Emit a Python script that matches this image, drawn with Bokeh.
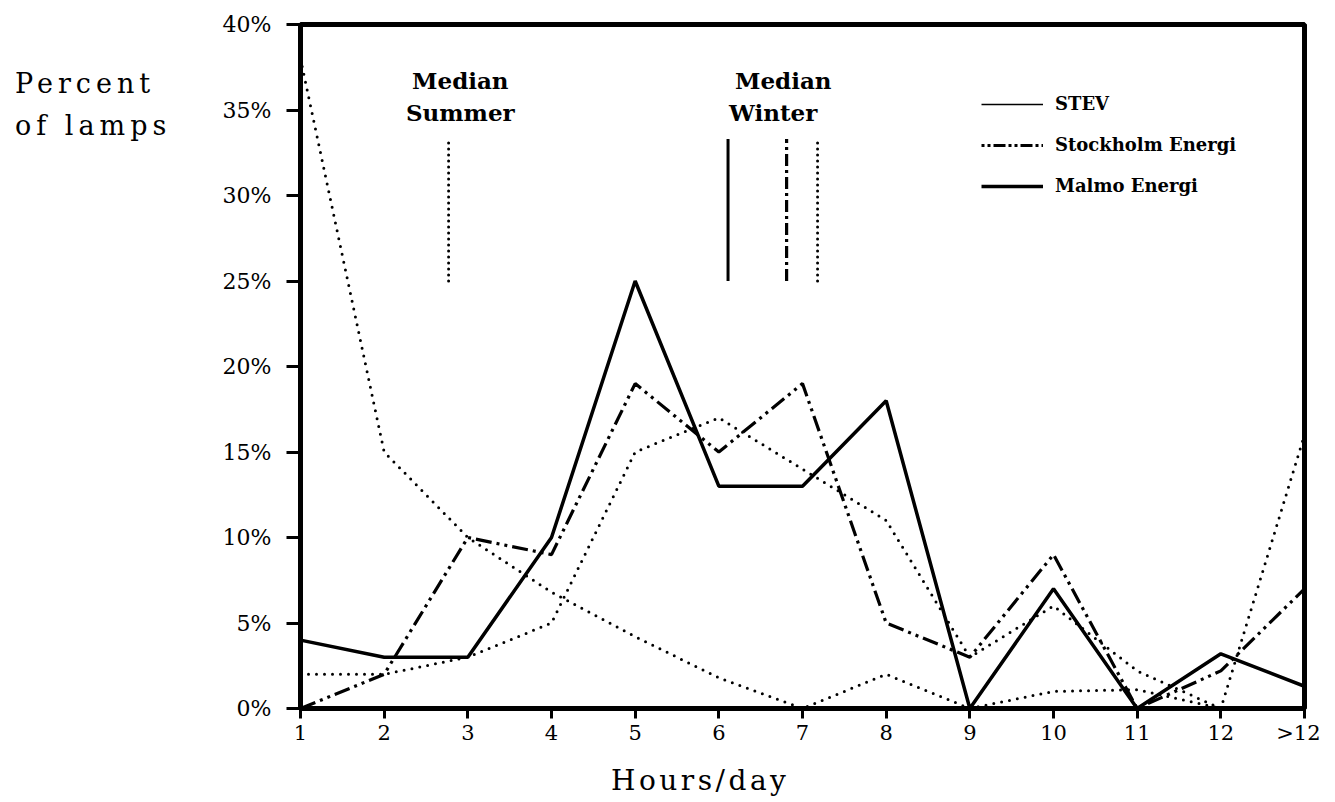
from bokeh.plotting import figure
from bokeh.models import Range1d, FixedTicker, Label, Legend, LegendItem, Div
from bokeh.layouts import row, column
from bokeh.embed import file_html
from bokeh.resources import INLINE

# ---- data ----
hour_pos = [1, 2, 3, 4, 5, 6, 7, 8, 9, 10, 11, 12, 13]
hour_labels = ["1", "2", "3", "4", "5", "6", "7", "8", "9", "10", "11", "12", ">12"]
malmo = [4, 3, 3, 10, 25, 13, 13, 18, 0, 7, 0, 3.2, 1.3]
stockholm = [0, 2, 10, 9, 19, 15, 19, 5, 3, 9, 0, 2.2, 7]
stev_summer = [38, 15, 10, 6.8, 4.2, 1.8, 0, 2, 0, 1, 1.1, 0, 0]
stev_winter = [2, 2, 3, 5, 15, 17, 14, 11, 3, 6, 2.2, 0, 16]
y_ticks = [0, 5, 10, 15, 20, 25, 30, 35, 40]
y_tick_labels = ["0%", "5%", "10%", "15%", "20%", "25%", "30%", "35%", "40%"]
median_summer = [2.77]
median_winter_malmo = [6.11]
median_winter_stockholm = [6.81]
median_winter_stev = [7.18]
median_low = [25]
median_high = [33.3]
series_names = ["STEV", "Stockholm Energi", "Malmo Energi"]

SERIF = "DejaVu Serif"
NAN = float("nan")

p = figure(width=1120, height=755, output_backend="svg", toolbar_location=None,
           x_range=Range1d(1, 13), y_range=Range1d(0, 40),
           min_border_left=100, min_border_right=16, min_border_top=24,
           min_border_bottom=47)
p.margin = 0
p.grid.visible = False
p.outline_line_color = "black"
p.outline_line_width = 5
p.background_fill_color = "white"
p.border_fill_color = "white"

# axes
p.xaxis.ticker = FixedTicker(ticks=hour_pos)
p.xaxis.major_label_overrides = {h: l for h, l in zip(hour_pos, hour_labels)}
p.yaxis.ticker = FixedTicker(ticks=y_ticks)
p.yaxis.major_label_overrides = {t: l for t, l in zip(y_ticks, y_tick_labels)}
for ax in (p.xaxis, p.yaxis):
    ax.axis_line_width = 5
    ax.axis_line_color = "black"
    ax.major_tick_line_width = 3
    ax.major_tick_in = 0
    ax.minor_tick_line_color = None
    ax.major_label_text_font = SERIF
    ax.major_label_text_color = "black"
p.xaxis.major_label_text_font_size = "21px"
p.yaxis.major_label_text_font_size = "22px"
p.xaxis.major_tick_out = 10
p.yaxis.major_tick_out = 14
p.xaxis.major_label_standoff = 2
p.yaxis.major_label_standoff = 15

DOT = dict(line_color="black", line_width=3, line_dash="0 8", line_cap="round")
VDOT = dict(line_color="black", line_width=3, line_dash="0 6", line_cap="round")

# series
p.line(hour_pos, stev_summer, **DOT)
p.line(hour_pos, stev_winter, **DOT)
p.line(hour_pos, stockholm, line_color="black", line_width=3.2, line_dash="16 5 3 5 3 5")
p.line(hour_pos, malmo, line_color="black", line_width=3.5)

# median markers
p.segment(x0=median_summer, y0=median_low, x1=median_summer, y1=median_high, **VDOT)
p.segment(x0=median_winter_malmo, y0=median_low, x1=median_winter_malmo, y1=median_high,
          line_color="black", line_width=3)
p.segment(x0=median_winter_stockholm, y0=median_low, x1=median_winter_stockholm, y1=median_high,
          line_color="black", line_width=3.2, line_dash="12 4 3 4")
p.segment(x0=median_winter_stev, y0=median_low, x1=median_winter_stev, y1=median_high, **VDOT)

# median texts
for txt, x, y in [("Median", 2.91, 36.7), ("Summer", 2.91, 34.85),
                  ("Median", 6.77, 36.7), ("Winter", 6.65, 34.85)]:
    p.add_layout(Label(x=x, y=y, text=txt, text_align="center", text_baseline="alphabetic",
                       text_font=SERIF, text_font_style="bold", text_font_size="23px",
                       text_color="black"))

# legend (samples as drawn in the reference legend)
r_stev = p.line([NAN], [NAN], line_color="black", line_width=1.6)
r_sto = p.line([NAN], [NAN], line_color="black", line_width=3, line_dash="3 3 3 3 12 3")
r_mal = p.line([NAN], [NAN], line_color="black", line_width=3.5)
legend = Legend(items=[LegendItem(label=series_names[0], renderers=[r_stev]),
                       LegendItem(label=series_names[1], renderers=[r_sto]),
                       LegendItem(label=series_names[2], renderers=[r_mal])],
                location=(681, 512), orientation="vertical")
legend.background_fill_alpha = 0
legend.border_line_color = None
legend.padding = 0
legend.margin = 0
legend.spacing = 20
legend.glyph_width = 62
legend.glyph_height = 20
legend.label_height = 20
legend.label_standoff = 12
legend.label_text_font = SERIF
legend.label_text_font_style = "bold"
legend.label_text_font_size = "18px"
legend.label_text_color = "black"
p.add_layout(legend)

left_div = Div(width=200, height=800, margin=0,
               text=("<div style=\"font-family:'DejaVu Serif'; font-size:27px; line-height:42px; "
                     "letter-spacing:5px; padding:63px 0 0 15px; color:black; white-space:nowrap;\">"
                     "Percent<br>of lamps</div>"))
bottom_div = Div(width=1120, height=45, margin=0,
                 text=("<div style=\"font-family:'DejaVu Serif'; font-size:28px; line-height:28px; "
                       "letter-spacing:3.5px; padding:12px 0 0 411px; color:black; white-space:nowrap;\">"
                       "Hours/day</div>"))

layout = row(column(left_div, margin=0), column(p, bottom_div, margin=0), margin=0)
open("out.html", "w").write(file_html(layout, INLINE))
